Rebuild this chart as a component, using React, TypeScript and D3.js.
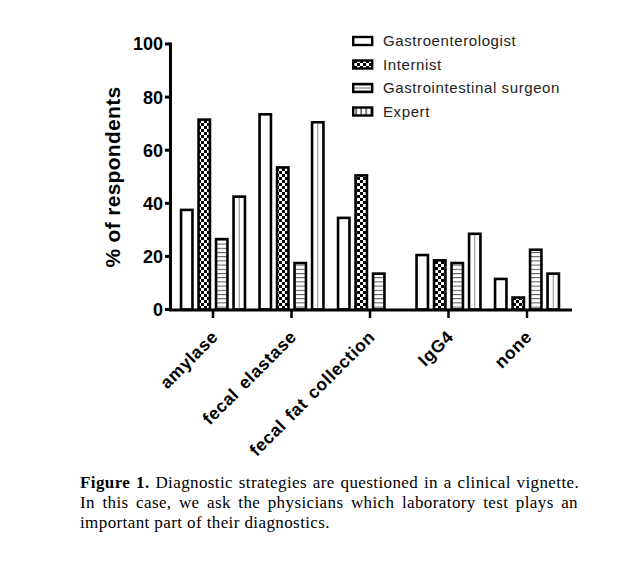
import React, { useMemo } from "react";
import * as d3 from "d3";

const categories = ["amylase", "fecal elastase", "fecal fat collection", "IgG4", "none"];
const seriesNames = ["Gastroenterologist", "Internist", "Gastrointestinal surgeon", "Expert"];
const gastroenterologist = [38, 74, 35, 21, 12];
const internist = [72, 54, 51, 19, 5];
const surgeon = [27, 18, 14, 18, 23];
const expert = [43, 71, 0, 29, 14];
const yTicks = [0, 20, 40, 60, 80, 100];
const yLabel = "% of respondents";
const captionBold = "Figure 1.";
const captionLines = [
  " Diagnostic strategies are questioned in a clinical vignette.",
  "In this case, we ask the physicians which laboratory test plays an",
  "important part of their diagnostics.",
];

const seriesValues = [gastroenterologist, internist, surgeon, expert];
const fills = ["#fff", "url(#checker)", "url(#hstripe)", "#fff"];

const SANS = "'Liberation Sans', Arial, sans-serif";
const SERIF = "'Liberation Serif', 'Times New Roman', serif";

function measure(text: string, font: string): number {
  if (typeof document === "undefined") return text.length * 7;
  const c = document.createElement("canvas");
  const ctx = c.getContext("2d");
  if (!ctx) return text.length * 7;
  ctx.font = font;
  return ctx.measureText(text).width;
}

export default function App() {
  const x0 = 169;
  const xEnd = 572;
  const y = d3.scaleLinear().domain([0, 100]).range([309.5, 44]);
  const x = d3.scaleBand<string>().domain(categories).range([173.75, 566.25]).padding(0);
  const inner = d3
    .scaleBand<string>()
    .domain(seriesNames)
    .range([-35, 35])
    .paddingInner(0.2)
    .paddingOuter(0.1);
  const bw = inner.bandwidth();
  const sw = 2.6;

  const capFontSize = 17;
  const capLetter = 0.4;
  const capLeft = 80;
  const capRight = 578;
  const capWidth = capRight - capLeft;
  const capBaselines = [488, 508, 528];

  const spacing = useMemo(() => {
    const res: number[] = [];
    const boldW =
      measure(captionBold, `bold ${capFontSize}px ${SERIF}`) + captionBold.length * capLetter;
    captionLines.forEach((ln, i) => {
      if (i === captionLines.length - 1) {
        res.push(0);
        return;
      }
      let w = measure(ln, `${capFontSize}px ${SERIF}`) + ln.length * capLetter;
      let spaces = (ln.match(/ /g) || []).length;
      if (i === 0) {
        w += boldW;
      }
      res.push(Math.max(0, (capWidth - w) / spaces));
    });
    return res;
  }, []);

  const legendX = 352;
  const legendY0 = 41;
  const legendStep = 23.5;

  return (
    <svg
      width={630}
      height={569}
      style={{ position: "absolute", left: 0, top: 0, background: "#fff" }}
    >
      <defs>
        <pattern id="checker" width={6} height={6} patternUnits="userSpaceOnUse">
          <rect width={6} height={6} fill="#fff" />
          <rect x={0} y={0} width={3} height={3} fill="#000" />
          <rect x={3} y={3} width={3} height={3} fill="#000" />
        </pattern>
        <pattern id="hstripe" width={6} height={4.2} patternUnits="userSpaceOnUse">
          <rect width={6} height={4.2} fill="#fff" />
          <rect x={0} y={0} width={6} height={1} fill="#555" />
        </pattern>
        <pattern id="vstripe" width={5} height={6} patternUnits="userSpaceOnUse" x={0.5}>
          <rect width={5} height={6} fill="#fff" />
          <rect x={0} y={0} width={1.2} height={6} fill="#222" />
        </pattern>
        <pattern id="hstripeLeg" width={6} height={3} patternUnits="userSpaceOnUse" y={0.5}>
          <rect width={6} height={3} fill="#fff" />
          <rect x={0} y={0} width={6} height={1} fill="#666" />
        </pattern>
      </defs>

      {/* bars */}
      {categories.map((cat, ci) => {
        const cx = (x(cat) as number) + x.bandwidth() / 2;
        return seriesNames.map((s, si) => {
          const v = seriesValues[si][ci];
          if (!v) return null;
          const bx = cx + (inner(s) as number);
          const top = y(v);
          const bottom = y(0);
          return (
            <g key={`${cat}-${s}`}>
              <rect
                x={bx + sw / 2}
                y={top + sw / 2}
                width={bw - sw}
                height={bottom - top - sw / 2}
                fill={fills[si]}
                stroke="#000"
                strokeWidth={sw}
              />
              {si === 3 && (
                <line
                  x1={bx + bw / 2}
                  x2={bx + bw / 2}
                  y1={top + sw}
                  y2={bottom}
                  stroke="#888"
                  strokeWidth={1}
                />
              )}
            </g>
          );
        });
      })}

      {/* y axis */}
      <line x1={170.5} x2={170.5} y1={y(100) - 1.5} y2={y(0) + 1.5} stroke="#000" strokeWidth={3} />
      {yTicks.map((t) => (
        <g key={t}>
          <line x1={165} x2={170} y1={y(t)} y2={y(t)} stroke="#000" strokeWidth={3} />
          <text
            x={163}
            y={y(t)}
            dy="0.36em"
            textAnchor="end"
            fontFamily={SANS}
            fontWeight="bold"
            fontSize={18}
            fill="#000"
          >
            {t}
          </text>
        </g>
      ))}
      <text
        transform={`translate(120,177) rotate(-90)`}
        textAnchor="middle"
        fontFamily={SANS}
        fontWeight="bold"
        fontSize={21}
        letterSpacing={0.3}
        fill="#000"
      >
        {yLabel}
      </text>

      {/* x axis */}
      <line x1={x0} x2={xEnd} y1={y(0) + 0.5} y2={y(0) + 0.5} stroke="#000" strokeWidth={3} />
      {categories.map((cat) => {
        const cx = (x(cat) as number) + x.bandwidth() / 2;
        return (
          <g key={cat}>
            <line x1={cx} x2={cx} y1={y(0)} y2={y(0) + 8.5} stroke="#000" strokeWidth={2.5} />
            <text
              transform={`translate(${cx + 6},${338}) rotate(-45)`}
              textAnchor="end"
              fontFamily={SANS}
              fontWeight="bold"
              fontSize={17.5}
              letterSpacing={0.6}
              wordSpacing={2}
              fill="#000"
            >
              {cat}
            </text>
          </g>
        );
      })}

      {/* legend */}
      {seriesNames.map((s, i) => {
        const cy = legendY0 + i * legendStep;
        const legFill =
          i === 0 ? "#fff" : i === 1 ? "url(#checker)" : i === 2 ? "url(#hstripeLeg)" : "url(#vstripe)";
        return (
          <g key={s}>
            <rect
              x={legendX + 1.2}
              y={cy - 4}
              width={19}
              height={8}
              fill={legFill}
              stroke="#000"
              strokeWidth={2.4}
            />
            <text
              x={383}
              y={cy + 5}
              fontFamily={SANS}
              fontSize={15}
              letterSpacing={0.6}
              fill="#222"
            >
              {s}
            </text>
          </g>
        );
      })}

      {/* caption */}
      {captionLines.map((ln, i) => (
        <text
          key={i}
          x={capLeft}
          y={capBaselines[i]}
          fontFamily={SERIF}
          fontSize={capFontSize}
          letterSpacing={capLetter}
          fill="#000"
          wordSpacing={spacing[i]}
          style={{ whiteSpace: "pre" }}
        >
          {i === 0 && <tspan fontWeight="bold">{captionBold}</tspan>}
          {ln}
        </text>
      ))}
    </svg>
  );
}
